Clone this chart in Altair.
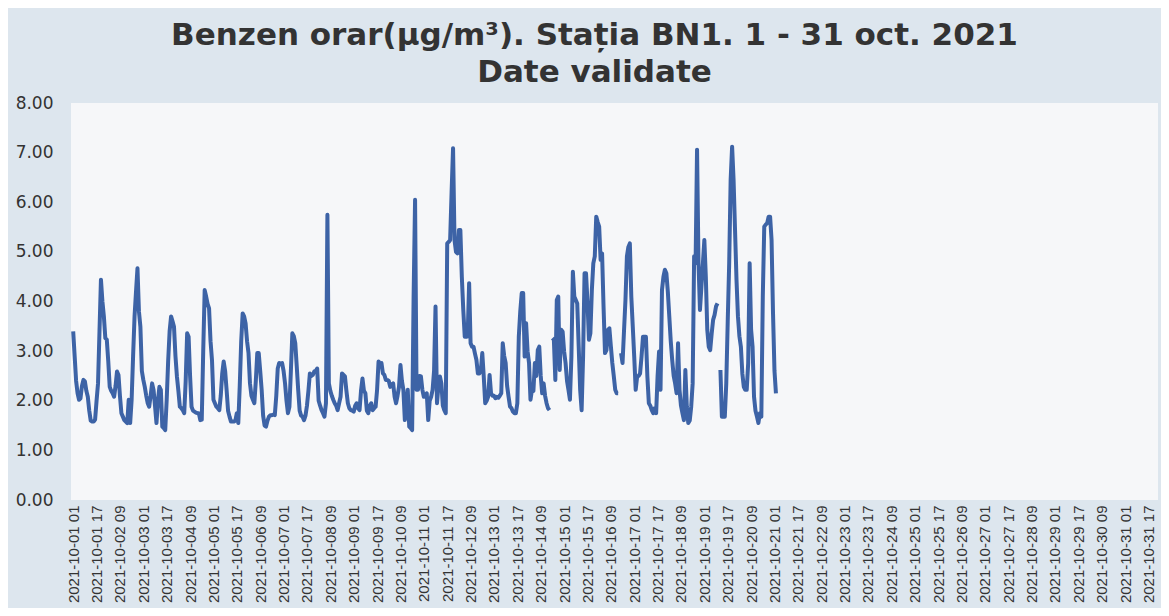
import altair as alt
import pandas as pd

title_lines = ["Benzen orar(µg/m³). Stația BN1. 1 - 31 oct. 2021", "Date validate"]

tick_labels = [
    "2021-10-01 01", "2021-10-01 17", "2021-10-02 09", "2021-10-03 01", "2021-10-03 17",
    "2021-10-04 09", "2021-10-05 01", "2021-10-05 17", "2021-10-06 09", "2021-10-07 01",
    "2021-10-07 17", "2021-10-08 09", "2021-10-09 01", "2021-10-09 17", "2021-10-10 09",
    "2021-10-11 01", "2021-10-11 17", "2021-10-12 09", "2021-10-13 01", "2021-10-13 17",
    "2021-10-14 09", "2021-10-15 01", "2021-10-15 17", "2021-10-16 09", "2021-10-17 01",
    "2021-10-17 17", "2021-10-18 09", "2021-10-19 01", "2021-10-19 17", "2021-10-20 09",
    "2021-10-21 01", "2021-10-21 17", "2021-10-22 09", "2021-10-23 01", "2021-10-23 17",
    "2021-10-24 09", "2021-10-25 01", "2021-10-25 17", "2021-10-26 09", "2021-10-27 01",
    "2021-10-27 17", "2021-10-28 09", "2021-10-29 01", "2021-10-29 17", "2021-10-30 09",
    "2021-10-31 01", "2021-10-31 17",
]
tick_positions = [0, 16, 32, 48, 64, 80, 96, 112, 128, 144, 160, 176, 192, 208, 224, 240,
                  256, 272, 288, 304, 320, 336, 352, 368, 384, 400, 416, 432, 448, 464, 480,
                  496, 512, 528, 544, 560, 576, 592, 608, 624, 640, 656, 672, 688, 704, 720, 736]
y_ticks = [0, 1, 2, 3, 4, 5, 6, 7, 8]

# hourly benzene values (µg/m³), 24 values per row, starting 2021-10-01 01; None = missing
hourly_rows = [
    [3.40, 2.90, 2.40, 2.15, 2.02, 2.05, 2.30, 2.42, 2.39, 2.20, 2.08, 1.80, 1.60, 1.58, 1.58, 1.62, 2.00, 2.35, 3.40, 4.44, 4.00, 3.70, 3.26, 3.23],
    [2.80, 2.28, 2.20, 2.15, 2.08, 2.30, 2.59, 2.52, 2.10, 1.75, 1.68, 1.61, 1.58, 1.55, 2.02, 1.55, 2.02, 2.90, 3.70, 4.20, 4.67, 3.80, 3.49, 2.60],
    [2.42, 2.28, 2.10, 1.95, 1.88, 2.10, 2.35, 2.22, 1.90, 1.55, 2.00, 2.28, 2.22, 1.48, 1.45, 1.41, 2.02, 2.80, 3.40, 3.70, 3.60, 3.49, 2.90, 2.49],
    [2.20, 1.88, 1.85, 1.81, 1.75, 2.40, 3.36, 3.29, 2.50, 1.88, 1.80, 1.78, 1.76, 1.75, 1.75, 1.61, 1.62, 3.00, 4.23, 4.10, 3.95, 3.86, 3.20, 2.82],
    [2.02, 1.95, 1.88, 1.85, 1.81, 2.10, 2.55, 2.79, 2.60, 2.22, 1.80, 1.68, 1.58, 1.58, 1.58, 1.60, 1.75, 1.55, 2.30, 3.20, 3.76, 3.70, 3.56, 3.20],
    [2.96, 2.35, 2.10, 2.02, 1.95, 2.40, 2.96, 2.96, 2.60, 2.22, 1.70, 1.50, 1.48, 1.60, 1.68, 1.71, 1.71, 1.72, 1.71, 2.10, 2.65, 2.76, 2.75, 2.76],
    [2.60, 2.35, 2.00, 1.75, 1.88, 2.60, 3.36, 3.30, 3.16, 2.70, 2.22, 1.80, 1.70, 1.68, 1.61, 1.70, 1.90, 2.20, 2.55, 2.50, 2.52, 2.59, 2.60, 2.65],
    [2.00, 1.90, 1.81, 1.75, 1.68, 1.95, 5.75, 2.35, 2.20, 2.10, 2.02, 1.95, 1.90, 1.81, 1.95, 2.08, 2.55, 2.52, 2.49, 2.20, 1.95, 1.85, 1.81, 1.80],
    [1.78, 1.90, 1.95, 1.85, 1.81, 2.20, 2.45, 2.20, 2.15, 1.80, 1.75, 1.90, 1.95, 1.81, 1.85, 1.88, 2.22, 2.79, 2.75, 2.76, 2.55, 2.52, 2.42, 2.42],
    [2.40, 2.28, 2.32, 2.35, 2.08, 1.95, 2.10, 2.28, 2.72, 2.40, 2.22, 1.61, 1.90, 2.22, 1.48, 1.45, 1.41, 4.10, 6.05, 2.22, 2.22, 2.50, 2.49, 2.22],
    [2.08, 2.10, 2.15, 1.61, 2.00, 2.08, 2.22, 2.60, 3.90, 1.95, 2.30, 2.49, 2.35, 1.90, 1.81, 1.75, 5.17, 5.20, 5.24, 6.20, 7.09, 5.24, 5.00, 4.97],
    [5.44, 5.44, 4.50, 3.83, 3.29, 3.29, 3.30, 4.37, 3.16, 3.09, 3.09, 2.95, 2.82, 2.55, 2.55, 2.60, 2.96, 2.49, 1.95, 2.00, 2.08, 2.52, 2.15, 2.10],
    [2.10, 2.05, 2.08, 2.06, 2.10, 2.15, 3.16, 2.90, 2.76, 2.30, 2.08, 1.88, 1.85, 1.78, 1.75, 1.75, 1.95, 3.29, 3.80, 4.17, 4.17, 2.89, 3.56, 3.00],
    [2.76, 2.02, 2.22, 2.20, 2.76, 2.50, 3.02, 3.09, 2.50, 2.15, 2.35, 2.10, 1.95, 1.85, 1.81, None, 3.26, 3.23, 2.42, 4.03, 4.10, 2.62, 3.43, 3.39],
    [3.00, 2.76, 2.40, 2.22, 2.02, 2.89, 4.60, 4.10, 4.03, 3.96, 3.09, 2.22, 1.81, 2.89, 4.57, 4.57, 4.00, 3.23, 3.36, 4.23, 4.77, 4.91, 5.71, 5.60],
    [5.51, 4.84, 4.97, 3.90, 2.96, 3.02, 3.43, 3.46, 3.10, 2.76, 2.50, 2.22, 2.15, 2.15, None, 2.96, 2.76, 3.40, 4.03, 4.91, 5.10, 5.17, 4.10, 3.50],
    [2.89, 2.22, 2.49, 2.50, 2.55, 2.89, 3.29, 3.29, 3.29, 2.49, 1.95, 1.90, 1.81, 1.75, 1.85, 1.75, 2.50, 2.99, 2.22, 4.23, 4.50, 4.64, 4.57, 4.20],
    [3.70, 3.20, 2.82, 2.50, 2.35, 2.15, 3.16, 2.22, 1.90, 1.75, 1.61, 2.62, 1.88, 1.55, 1.60, 1.88, 2.35, 4.91, 4.77, 7.06, 4.77, 3.83, 4.30, 4.77],
    [5.24, 4.50, 3.43, 3.09, 3.02, 3.35, 3.63, 3.73, 3.90, 3.96, None, 2.62, 1.68, 1.68, 1.68, 2.35, 3.60, 4.77, 6.45, 7.12, 6.45, 5.44, 4.44, 3.70],
    [3.30, 3.09, 2.55, 2.28, 2.22, 2.22, 2.76, 4.77, 3.43, 3.09, 2.08, 1.80, 1.68, 1.55, 1.75, 1.68, 4.10, 5.51, 5.55, 5.58, 5.71, 5.71, 5.24, 3.76],
    [2.60, 2.15],
]

benzen = [v for row in hourly_rows for v in row]
hour_index = list(range(len(benzen)))

df = pd.DataFrame({"h": hour_index, "v": benzen})

label_array = "[" + ",".join("'" + s + "'" for s in tick_labels) + "]"
label_expr = label_array + "[round(datum.value / 16)]"

chart = (
    alt.Chart(df)
    .mark_line(color="#3d63a6", strokeWidth=4, strokeJoin="round",
               invalid="break-paths-show-domains")
    .encode(
        x=alt.X(
            "h:Q",
            scale=alt.Scale(domain=[-1.5, 742.5], nice=False, zero=False),
            axis=alt.Axis(
                values=tick_positions,
                labelExpr=label_expr,
                labelAngle=270,
                labelFont="Liberation Sans",
                labelFontSize=15,
                labelColor="#333333",
                labelPadding=5,
                labelOverlap=False,
                labelFlush=False,
                labelBound=False,
                ticks=False,
                domain=False,
                grid=False,
                title=None,
            ),
        ),
        y=alt.Y(
            "v:Q",
            scale=alt.Scale(domain=[0, 8], nice=False),
            axis=alt.Axis(
                values=y_ticks,
                format=".2f",
                labelFont="DejaVu Sans",
                labelFontSize=17,
                labelColor="#333333",
                labelPadding=18,
                labelFlush=False,
                ticks=False,
                domain=False,
                grid=False,
                title=None,
            ),
        ),
    )
    .properties(
        width=1087,
        height=397,
        padding={"left": 63, "top": 95, "right": 3, "bottom": 108},
        autosize=alt.AutoSizeParams(type="none"),
        background="#dde6ee",
        title=alt.TitleParams(
            text=title_lines,
            font="DejaVu Sans",
            fontWeight="bold",
            fontSize=31,
            lineHeight=37,
            color="#333333",
            anchor="middle",
            offset=5,
            dx=-20,
        ),
    )
    .configure_view(fill="#f6f7f9", strokeWidth=0)
)

chart.save("out.html", embed_options={"renderer": "svg", "actions": False})
